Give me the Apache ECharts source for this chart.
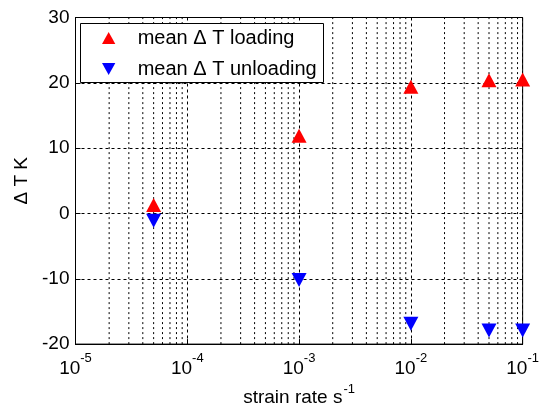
<!DOCTYPE html>
<html>
<head>
<meta charset="utf-8">
<script src="https://cdn.jsdelivr.net/npm/echarts@6/dist/echarts.min.js"></script>
<style>
html,body{margin:0;padding:0;background:#fff;}
#chart{width:542px;height:412px;}
</style>
</head>
<body>
<div id="chart"></div>
<script>
// strain rates (1/s) and mean temperature changes (K)
const strainRates = [5e-5, 1e-3, 1e-2, 5e-2, 1e-1];
const dTLoading   = [1.3, 11.9, 19.4, 20.4, 20.5];
const dTUnloading = [-1.1, -10.2, -16.9, -17.9, -17.9];
const seriesNames = ['mean \u0394 T loading', 'mean \u0394 T unloading'];
const yTicks = [-20, -10, 0, 10, 20, 30];
const xDecades = [1e-5, 1e-4, 1e-3, 1e-2, 1e-1];

// minor grid positions 2..9 within each decade, drawn as broken vertical segments
const minorX = [];
for (let d = 0; d < xDecades.length - 1; d++) {
  for (let m = 2; m <= 9; m++) minorX.push(m * xDecades[d]);
}
const yMin = yTicks[0], yMax = yTicks[yTicks.length - 1];
const minorGridData = [];
minorX.forEach(v => { minorGridData.push([v, yMin], [v, yMax], '-'); });

const FONT = 'Liberation Sans, Arial, sans-serif';
const downTri = 'path://M0,0 L10,0 L5,9 Z';
const upTri = 'path://M5,0 L10,9 L0,9 Z';

const chart = echarts.init(document.getElementById('chart'));
chart.setOption({
  animation: false,
  backgroundColor: '#fff',
  grid: {left: 75.5, right: 14.5, top: 17.5, bottom: 66, show: true, borderColor: '#000', borderWidth: 1, backgroundColor: 'transparent'},
  xAxis: {
    type: 'log', logBase: 10, min: 1e-5, max: 1e-1,
    name: '{t|strain rate s}{s|-1}', nameLocation: 'middle', nameGap: 33,
    nameTextStyle: {rich: {
      t: {fontFamily: FONT, fontSize: 19, color: '#000', lineHeight: 24, verticalAlign: 'bottom'},
      s: {fontFamily: FONT, fontSize: 13, color: '#000', lineHeight: 24, verticalAlign: 'top', padding: [0, 0, 0, 1]}
    }},
    axisLine: {show: true, onZero: false, lineStyle: {color: '#000'}},
    axisTick: {show: true, inside: true, length: 5, lineStyle: {color: '#000'}},
    axisLabel: {
      margin: 8,
      formatter: v => '{b|10}{s|' + Math.round(Math.log10(v)) + '}',
      rich: {
        b: {fontFamily: FONT, fontSize: 19, color: '#000', lineHeight: 26, verticalAlign: 'bottom'},
        s: {fontFamily: FONT, fontSize: 13, color: '#000', lineHeight: 26, verticalAlign: 'top'}
      }
    },
    splitLine: {show: true, lineStyle: {color: '#000', type: [3, 3], width: 1}}
  },
  yAxis: {
    type: 'value', min: yMin, max: yMax, interval: 10,
    name: '\u0394 T K', nameLocation: 'middle', nameGap: 41,
    nameTextStyle: {fontFamily: FONT, fontSize: 19, color: '#000'},
    axisLine: {show: true, onZero: false, lineStyle: {color: '#000'}},
    axisTick: {show: true, inside: true, length: 5, lineStyle: {color: '#000'}},
    axisLabel: {fontFamily: FONT, fontSize: 19, color: '#000', margin: 6},
    splitLine: {show: true, lineStyle: {color: '#000', type: [3, 3], width: 1}}
  },
  graphic: [{
    type: 'rect', z: 10, shape: {x: 80.5, y: 23.5, width: 243, height: 59},
    style: {fill: '#fff', stroke: '#000', lineWidth: 1}
  }],
  legend: {
    z: 11, orient: 'vertical', left: 80, top: 23, padding: [5, 8, 5, 22],
    itemGap: 11, itemWidth: 16, itemHeight: 12,
    textStyle: {fontFamily: FONT, fontSize: 20, lineHeight: 20, color: '#000', padding: [0, 0, 0, 16]},
    data: seriesNames
  },
  series: [
    {
      name: 'minor grid', type: 'line', data: minorGridData, symbol: 'none',
      silent: true, connectNulls: false, z: 1, legendHoverLink: false,
      lineStyle: {color: '#000', type: [2, 3], width: 1}
    },
    {
      name: seriesNames[0], type: 'scatter', symbol: upTri, symbolSize: [15, 14],
      itemStyle: {color: '#ff0000', opacity: 1}, z: 5,
      data: strainRates.map((x, i) => [x, dTLoading[i]])
    },
    {
      name: seriesNames[1], type: 'scatter', symbol: downTri, symbolSize: [15, 14],
      itemStyle: {color: '#0000ff', opacity: 1}, z: 5,
      data: strainRates.map((x, i) => [x, dTUnloading[i]])
    }
  ]
});
</script>
</body>
</html>
